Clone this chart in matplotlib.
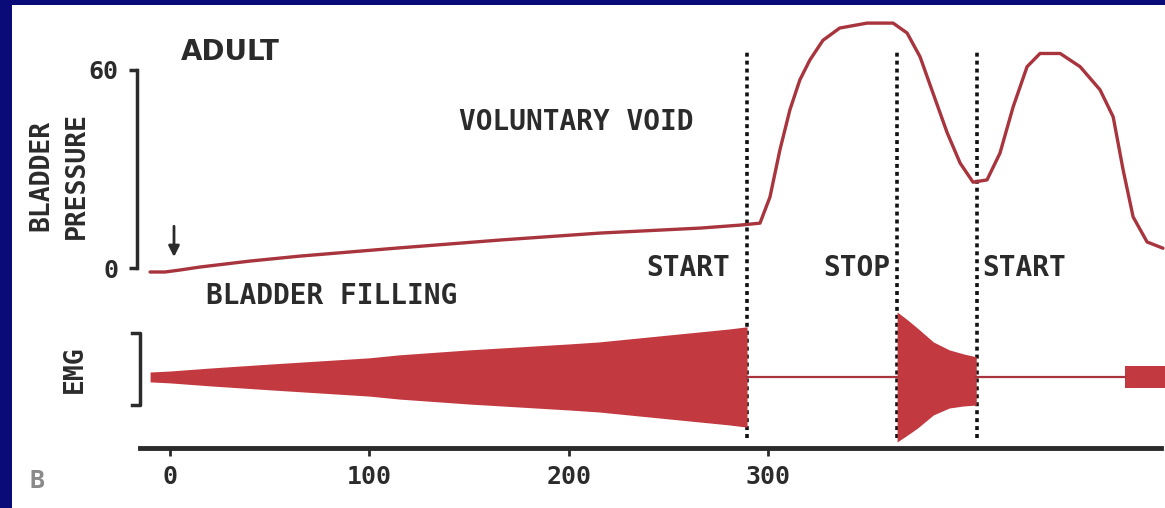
import numpy as np
import matplotlib
matplotlib.use("Agg")
import matplotlib.pyplot as plt
from matplotlib.patches import Rectangle

plt.rcParams["font.family"] = ["DejaVu Sans Mono", "DejaVu Sans"]
plt.rcParams["font.weight"] = "bold"

# bladder pressure trace (time, pressure)
press_t = [-10, -2.5, 5, 15, 40, 65, 115, 166, 216, 266, 286, 296, 301, 306, 311, 316,
           321, 327.6, 336, 349.7, 362.8, 369.8, 376.3, 382.8, 389.9, 396.4, 402.9,
           409.9, 416.4, 423, 430, 436.5, 446.6, 456.6, 466.6, 473.2, 478.2, 483.2,
           490.2, 498.2]
press_p = [-1.2, -1.2, -0.6, 0.3, 2.1, 3.6, 6.1, 8.5, 10.6, 12.1, 13.0, 13.6, 21.5,
           35.8, 47.9, 57, 63, 69, 72.7, 74.2, 74.2, 71.2, 64, 53, 41, 31.8, 26,
           26.7, 34.8, 48.8, 61, 65, 65, 61, 54, 45.8, 29.7, 15.5, 7.9, 6]

# EMG envelope (half-amplitude) during filling, after STOP, and at the end
emg_base = -33
emg1_t = [-10, 0, 20, 50, 100, 115, 150, 200, 215, 250, 265, 280, 289.5]
emg1_a = [1.5, 1.8, 2.7, 3.9, 5.8, 6.7, 8.2, 10, 10.6, 12.7, 13.6, 14.5, 15.2]
emg2_t = [364.8, 370, 375, 383, 391, 398, 404.5]
emg2_up = [19.7, 17.3, 14.8, 10.6, 8.2, 7.0, 6.1]
emg2_dn = [19.7, 17.6, 15.5, 11.5, 9.4, 8.8, 8.5]
emg3_t = [479, 499.5]
emg3_a = [3.3, 3.3]

events_t = [289.5, 364.8, 405]
xticks = [0, 100, 200, 300]

dark = "#2b2b2b"
red_line = "#a8343d"
red_fill = "#c2393f"

fig = plt.figure(figsize=(11.65, 5.08), dpi=100, facecolor="#0a0a78")
fig.add_artist(Rectangle((12 / 1165, 0), 1, 503 / 508, transform=fig.transFigure,
                         facecolor="white", edgecolor="none", zorder=-5))
ax = fig.add_axes([0, 0, 1, 1])
ax.set_facecolor("none")
ax.set_xlim(-85.3, 499.2)
ax.set_ylim(-72.7, 81.2)

# spines as the pressure bracket and the time axis
ax.spines["top"].set_visible(False)
ax.spines["right"].set_visible(False)
ax.spines["left"].set_position(("data", -16.6))
ax.spines["left"].set_bounds(0, 60)
ax.spines["left"].set_linewidth(2.5)
ax.spines["left"].set_color(dark)
ax.spines["bottom"].set_position(("data", -54.5))
ax.spines["bottom"].set_bounds(-15, 497)
ax.spines["bottom"].set_linewidth(3.5)
ax.spines["bottom"].set_color(dark)
ax.set_yticks([0, 60])
ax.set_xticks(xticks)
ax.tick_params(axis="y", length=6, width=2.5, pad=7, labelsize=18, colors=dark)
ax.tick_params(axis="x", length=6, width=2, pad=6, labelsize=18, colors=dark)

# event lines
for t in events_t:
    ax.plot([t, t], [-51.5, 66], color="#111111", lw=2.6,
            linestyle=(0, (1.1, 1.1)), zorder=2)

# pressure curve
ax.plot(press_t, press_p, color=red_line, lw=2.4, zorder=4, solid_capstyle="round")

# EMG
ax.fill_between(emg1_t, emg_base - np.array(emg1_a), emg_base + np.array(emg1_a),
                color=red_fill, lw=0, zorder=3)
ax.fill_between(emg2_t, emg_base - np.array(emg2_dn), emg_base + np.array(emg2_up),
                color=red_fill, lw=0, zorder=3)
ax.fill_between(emg3_t, emg_base - np.array(emg3_a), emg_base + np.array(emg3_a),
                color=red_fill, lw=0, zorder=3)
ax.plot([emg1_t[-1], emg2_t[0]], [emg_base, emg_base], color=red_line, lw=1.6, zorder=3)
ax.plot([emg2_t[-1], emg3_t[0]], [emg_base, emg_base], color=red_line, lw=1.6, zorder=3)

# EMG bracket
ax.plot([-19, -15, -15, -19], [-19.7, -19.7, -41.5, -41.5], color=dark, lw=2.5,
        solid_joinstyle="round")

# arrow at start of filling
ax.annotate("", xy=(2, 2.5), xytext=(2, 13.5),
            arrowprops=dict(arrowstyle="-|>", color=dark, lw=2, mutation_scale=16))

txt = dict(color=dark, fontsize=20, fontweight="bold", ha="center", va="center")
ax.text(30, 65.5, "ADULT", family="DejaVu Sans", **txt)
ax.text(204, 44.2, "VOLUNTARY VOID", **txt)
ax.text(81.3, -8.5, "BLADDER FILLING", **txt)
ax.text(281, 0, "START", **{**txt, "ha": "right"})
ax.text(361.3, 0, "STOP", **{**txt, "ha": "right"})
ax.text(407.4, 0, "START", **{**txt, "ha": "left"})
ax.text(-64.7, 27.9, "BLADDER", rotation=90, **{**txt, "fontsize": 19})
ax.text(-46.7, 27.9, "PRESSURE", rotation=90, **{**txt, "fontsize": 19})
ax.text(-47.7, -30.6, "EMG", rotation=90, **{**txt, "fontsize": 19})
ax.text(-66.7, -64.5, "B", **{**txt, "color": "#8a8a8a", "fontsize": 18})

fig.savefig("out.png", dpi=100, facecolor=fig.get_facecolor())
